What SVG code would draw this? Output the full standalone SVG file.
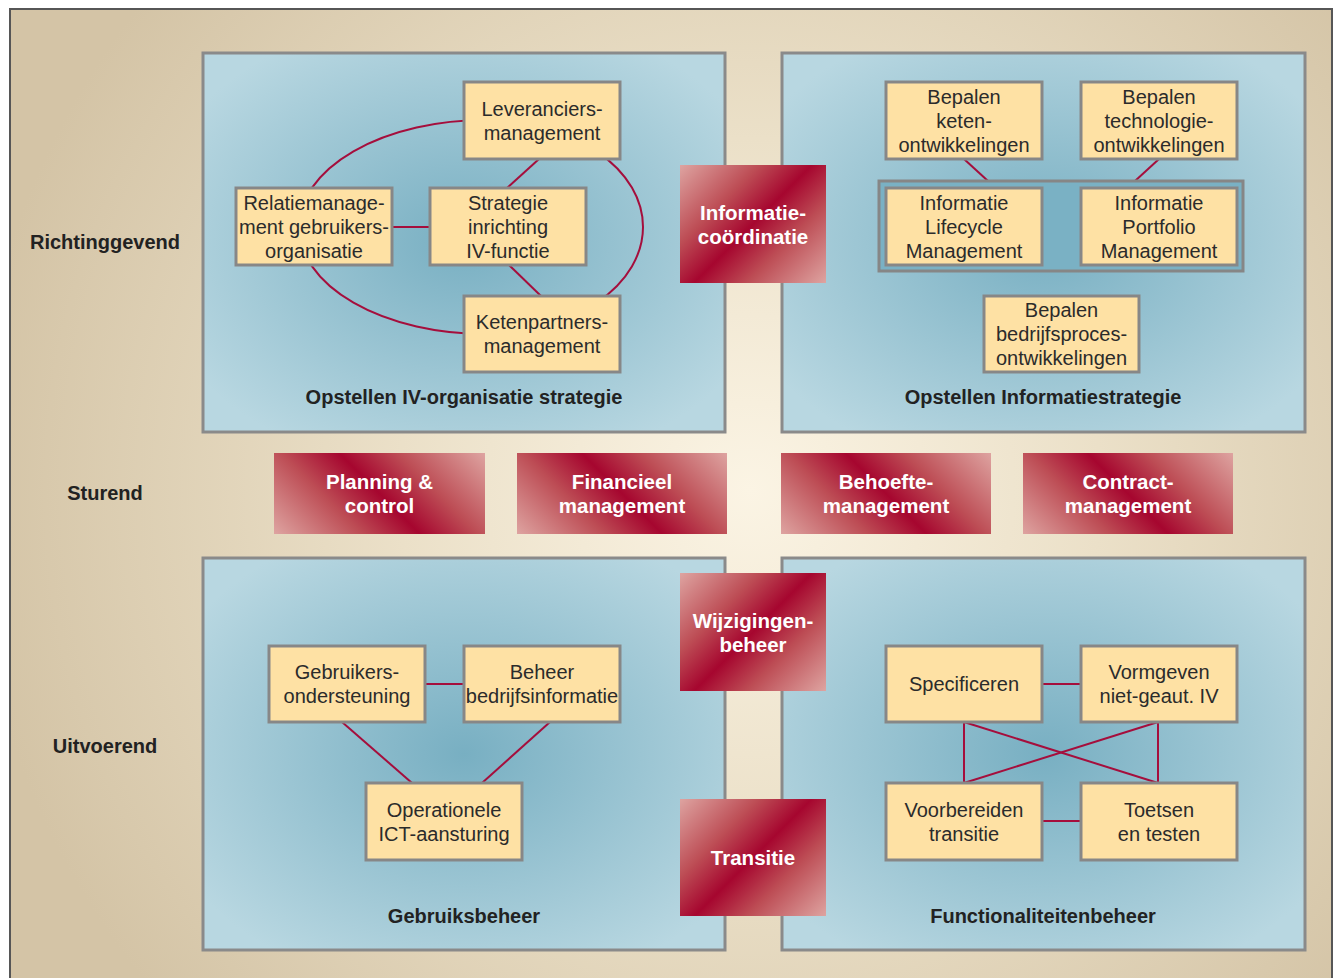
<svg xmlns="http://www.w3.org/2000/svg" xmlns:xlink="http://www.w3.org/1999/xlink" width="1335" height="978" viewBox="0 0 1335 978">
  <style>
    .frame { fill: url(#frameFill); stroke: #565656; stroke-width: 2; }
    .quad { fill: url(#quadFill); stroke: #8a8a8a; stroke-width: 3; }
    .cluster { fill: #7ab1c4; stroke: #868686; stroke-width: 3; }
    .node rect { fill: #fee1a4; stroke: #878787; stroke-width: 3; }
    .node text { font-family: "Liberation Sans", Arial, sans-serif; font-size: 20px; fill: #2b2b2b; text-anchor: middle; }
    .act text { font-family: "Liberation Sans", Arial, sans-serif; font-size: 20.5px; font-weight: bold; fill: #ffffff; text-anchor: middle; }
    .title { font-family: "Liberation Sans", Arial, sans-serif; font-size: 20px; font-weight: bold; fill: #222222; text-anchor: middle; }
    .conn { stroke: #a50e3c; stroke-width: 2; fill: none; }
  </style>
  <defs>
    <radialGradient id="frameFill" gradientUnits="userSpaceOnUse" cx="750" cy="490" r="780">
      <stop offset="0" stop-color="#fbf4e4"/>
      <stop offset="0.45" stop-color="#ebe0c8"/>
      <stop offset="1" stop-color="#d4c4a6"/>
    </radialGradient>
    <radialGradient id="quadFill" cx="0.5" cy="0.5" r="0.62">
      <stop offset="0" stop-color="#78afc2"/>
      <stop offset="1" stop-color="#b8d7e1"/>
    </radialGradient>
    <!-- shared crimson sheen; each block below reuses these stops at its own position -->
    <linearGradient id="redSheen" gradientUnits="userSpaceOnUse" x1="0" y1="0" x2="1" y2="1">
      <stop offset="0" stop-color="#dea4a1"/>
      <stop offset="0.3" stop-color="#bd4d55"/>
      <stop offset="0.5" stop-color="#a6062f"/>
      <stop offset="0.7" stop-color="#bd4d55"/>
      <stop offset="1" stop-color="#dea4a1"/>
    </linearGradient>
    <linearGradient id="gInfo" href="#redSheen" xlink:href="#redSheen" gradientUnits="userSpaceOnUse" x1="687" y1="158" x2="819" y2="290"/>
    <linearGradient id="gWijz" href="#redSheen" xlink:href="#redSheen" gradientUnits="userSpaceOnUse" x1="687" y1="566" x2="819" y2="698"/>
    <linearGradient id="gTrans" href="#redSheen" xlink:href="#redSheen" gradientUnits="userSpaceOnUse" x1="687" y1="791.5" x2="819" y2="923.5"/>
    <linearGradient id="gPlan" href="#redSheen" xlink:href="#redSheen" gradientUnits="userSpaceOnUse" x1="306.5" y1="566.5" x2="452.5" y2="420.5"/>
    <linearGradient id="gFin" href="#redSheen" xlink:href="#redSheen" gradientUnits="userSpaceOnUse" x1="549" y1="566.5" x2="695" y2="420.5"/>
    <linearGradient id="gBeh" href="#redSheen" xlink:href="#redSheen" gradientUnits="userSpaceOnUse" x1="813" y1="566.5" x2="959" y2="420.5"/>
    <linearGradient id="gCon" href="#redSheen" xlink:href="#redSheen" gradientUnits="userSpaceOnUse" x1="1055" y1="566.5" x2="1201" y2="420.5"/>
  </defs>

  <!-- page and outer frame -->
  <rect x="0" y="0" width="1335" height="978" fill="#ffffff"/>
  <rect class="frame" x="10" y="9" width="1322" height="990"/>

  <!-- four quadrants -->
  <g id="quadrants">
    <rect class="quad" x="203" y="53" width="522" height="379"/>
    <rect class="quad" x="782" y="53" width="523" height="379"/>
    <rect class="quad" x="203" y="558" width="522" height="392"/>
    <rect class="quad" x="782" y="558" width="523" height="392"/>
  </g>

  <!-- connectors -->
  <g id="connectors">
    <path class="conn" d="M485,120 A186,107 0 0 0 485,334 A158,107 0 0 0 485,120 Z"/>
    <line class="conn" x1="392" y1="227" x2="430" y2="227"/>
    <line class="conn" x1="539" y1="159" x2="507" y2="188"/>
    <line class="conn" x1="509" y1="265" x2="541" y2="296"/>

    <line class="conn" x1="964" y1="159" x2="988" y2="181"/>
    <line class="conn" x1="1159" y1="159" x2="1135" y2="181"/>

    <line class="conn" x1="425" y1="684" x2="464" y2="684"/>
    <line class="conn" x1="342" y1="722" x2="412" y2="783"/>
    <line class="conn" x1="550" y1="722" x2="482" y2="783"/>

    <line class="conn" x1="1042" y1="684" x2="1081" y2="684"/>
    <line class="conn" x1="1042" y1="821" x2="1081" y2="821"/>
    <line class="conn" x1="964" y1="722" x2="964" y2="783"/>
    <line class="conn" x1="1158" y1="722" x2="1158" y2="783"/>
    <line class="conn" x1="964" y1="722" x2="1158" y2="783"/>
    <line class="conn" x1="1158" y1="722" x2="964" y2="783"/>
  </g>

  <!-- Opstellen IV-organisatie strategie -->
  <g id="n-leveranciers" class="node">
    <rect x="464" y="82" width="156" height="77"/>
    <text x="542" y="115.5">Leveranciers-</text>
    <text x="542" y="139.5">management</text>
  </g>
  <g id="n-relatie" class="node">
    <rect x="236" y="188" width="156" height="77"/>
    <text x="314" y="209.5">Relatiemanage-</text>
    <text x="314" y="233.5">ment gebruikers-</text>
    <text x="314" y="257.5">organisatie</text>
  </g>
  <g id="n-strategie" class="node">
    <rect x="430" y="188" width="156" height="77"/>
    <text x="508" y="209.5">Strategie</text>
    <text x="508" y="233.5">inrichting</text>
    <text x="508" y="257.5">IV-functie</text>
  </g>
  <g id="n-ketenpartners" class="node">
    <rect x="464" y="296" width="156" height="76"/>
    <text x="542" y="329">Ketenpartners-</text>
    <text x="542" y="353">management</text>
  </g>

  <!-- Opstellen Informatiestrategie -->
  <g id="n-keten" class="node">
    <rect x="886" y="82" width="156" height="77"/>
    <text x="964" y="103.5">Bepalen</text>
    <text x="964" y="127.5">keten-</text>
    <text x="964" y="151.5">ontwikkelingen</text>
  </g>
  <g id="n-technologie" class="node">
    <rect x="1081" y="82" width="156" height="77"/>
    <text x="1159" y="103.5">Bepalen</text>
    <text x="1159" y="127.5">technologie-</text>
    <text x="1159" y="151.5">ontwikkelingen</text>
  </g>
  <g id="c-management">
    <rect class="cluster" x="879" y="181" width="364" height="90"/>
  </g>
  <g id="n-ilm" class="node">
    <rect x="886" y="188" width="156" height="77"/>
    <text x="964" y="209.5">Informatie</text>
    <text x="964" y="233.5">Lifecycle</text>
    <text x="964" y="257.5">Management</text>
  </g>
  <g id="n-ipm" class="node">
    <rect x="1081" y="188" width="156" height="77"/>
    <text x="1159" y="209.5">Informatie</text>
    <text x="1159" y="233.5">Portfolio</text>
    <text x="1159" y="257.5">Management</text>
  </g>
  <g id="n-bedrijfsproces" class="node">
    <rect x="984" y="296" width="155" height="76"/>
    <text x="1061.5" y="317">Bepalen</text>
    <text x="1061.5" y="341">bedrijfsproces-</text>
    <text x="1061.5" y="365">ontwikkelingen</text>
  </g>

  <!-- Gebruiksbeheer -->
  <g id="n-gebruikers" class="node">
    <rect x="269" y="646" width="156" height="76"/>
    <text x="347" y="679">Gebruikers-</text>
    <text x="347" y="703">ondersteuning</text>
  </g>
  <g id="n-beheer" class="node">
    <rect x="464" y="646" width="156" height="76"/>
    <text x="542" y="679">Beheer</text>
    <text x="542" y="703">bedrijfsinformatie</text>
  </g>
  <g id="n-operationele" class="node">
    <rect x="366" y="783" width="156" height="77"/>
    <text x="444" y="816.5">Operationele</text>
    <text x="444" y="840.5">ICT-aansturing</text>
  </g>

  <!-- Functionaliteitenbeheer -->
  <g id="n-specificeren" class="node">
    <rect x="886" y="646" width="156" height="76"/>
    <text x="964" y="691">Specificeren</text>
  </g>
  <g id="n-vormgeven" class="node">
    <rect x="1081" y="646" width="156" height="76"/>
    <text x="1159" y="679">Vormgeven</text>
    <text x="1159" y="703">niet-geaut. IV</text>
  </g>
  <g id="n-voorbereiden" class="node">
    <rect x="886" y="783" width="156" height="77"/>
    <text x="964" y="816.5">Voorbereiden</text>
    <text x="964" y="840.5">transitie</text>
  </g>
  <g id="n-toetsen" class="node">
    <rect x="1081" y="783" width="156" height="77"/>
    <text x="1159" y="816.5">Toetsen</text>
    <text x="1159" y="840.5">en testen</text>
  </g>

  <!-- crimson process blocks -->
  <g id="a-informatiecoordinatie" class="act">
    <rect x="680" y="165" width="146" height="118" fill="url(#gInfo)"/>
    <text x="753" y="219.5">Informatie-</text>
    <text x="753" y="243.5">coördinatie</text>
  </g>
  <g id="a-wijzigingenbeheer" class="act">
    <rect x="680" y="573" width="146" height="118" fill="url(#gWijz)"/>
    <text x="753" y="627.5">Wijzigingen-</text>
    <text x="753" y="651.5">beheer</text>
  </g>
  <g id="a-transitie" class="act">
    <rect x="680" y="799" width="146" height="117" fill="url(#gTrans)"/>
    <text x="753" y="865">Transitie</text>
  </g>
  <g id="a-planning" class="act">
    <rect x="274" y="453" width="211" height="81" fill="url(#gPlan)"/>
    <text x="379.5" y="489">Planning &amp;</text>
    <text x="379.5" y="513">control</text>
  </g>
  <g id="a-financieel" class="act">
    <rect x="517" y="453" width="210" height="81" fill="url(#gFin)"/>
    <text x="622" y="489">Financieel</text>
    <text x="622" y="513">management</text>
  </g>
  <g id="a-behoefte" class="act">
    <rect x="781" y="453" width="210" height="81" fill="url(#gBeh)"/>
    <text x="886" y="489">Behoefte-</text>
    <text x="886" y="513">management</text>
  </g>
  <g id="a-contract" class="act">
    <rect x="1023" y="453" width="210" height="81" fill="url(#gCon)"/>
    <text x="1128" y="489">Contract-</text>
    <text x="1128" y="513">management</text>
  </g>

  <!-- quadrant titles and row labels -->
  <g id="labels">
    <text class="title" x="464" y="404">Opstellen IV-organisatie strategie</text>
    <text class="title" x="1043" y="404">Opstellen Informatiestrategie</text>
    <text class="title" x="464" y="923">Gebruiksbeheer</text>
    <text class="title" x="1043" y="923">Functionaliteitenbeheer</text>
    <text class="title" x="105" y="249">Richtinggevend</text>
    <text class="title" x="105" y="500">Sturend</text>
    <text class="title" x="105" y="753">Uitvoerend</text>
  </g>
</svg>
